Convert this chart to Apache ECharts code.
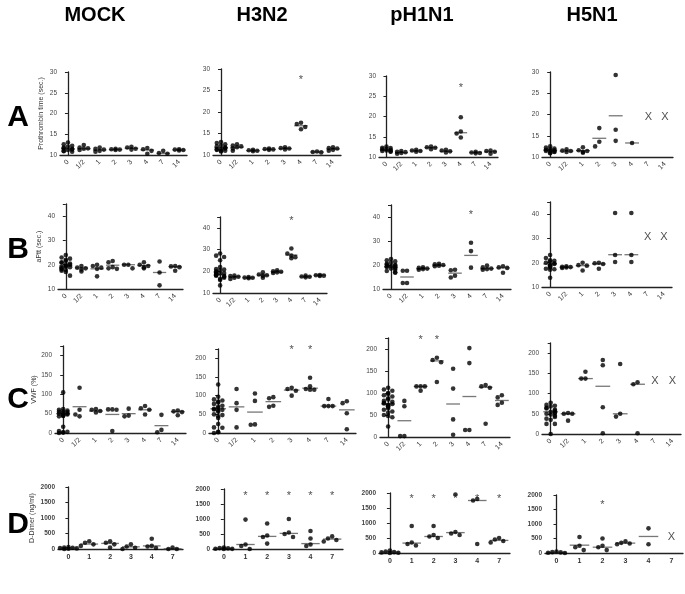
<!DOCTYPE html>
<html><head><meta charset="utf-8">
<script src="https://cdn.jsdelivr.net/npm/echarts@6/dist/echarts.min.js"></script>
<style>html,body{margin:0;padding:0;background:#fff}#c{width:685px;height:594px}</style>
</head><body><div id="c"></div><script>
const daysABC = ['0','1/2','1','2','3','4','7','14'];
const daysD = ['0','1','2','3','4','7'];
const columns = ['MOCK','H3N2','pH1N1','H5N1'];
const rowLetters = ['A','B','C','D'];
const yNames = ['Prothrombin time (sec.)','aPtt (sec.)','VWF (%)','D-Dimer (ng/ml)'];

// ---- Row A: Prothrombin time ----
const A_MOCK = [[12.6,13.0,12.2,11.8,11.5,11.3,11.0,10.8,11.6,12.0,11.2,10.9],[12.4,11.8,11.5,11.2,11.6],[11.8,11.5,11.0,10.8,11.3],[11.5,11.3,11.2,11.4],[12.0,11.8,11.5,11.3],[11.7,11.4,10.3,11.0],[11.0,10.5,10.3],[11.4,11.2,11.1,11.3]];
const A_MOCK_MED = [11.5,11.5,11.2,11.3,11.6,11.2,10.4,11.2];
const A_MOCK_STAR = [];
const A_MOCK_X = [];
const A_H3N2 = [[13.0,12.5,12.0,11.5,11.0,11.2,11.8,12.2,11.4,11.0,10.8,11.6,12.8,11.3],[12.5,12.2,11.8,11.5,11.0,12.0],[11.2,11.0,10.9,11.1],[11.4,11.3,11.2,11.5],[11.8,11.5,11.3,11.6],[17.5,17.2,16.5,16.0],[10.8,10.6,10.7],[11.8,11.5,11.2,11.6,11.0]];
const A_H3N2_MED = [11.7,11.8,11.0,11.3,11.5,16.8,10.7,11.4];
const A_H3N2_STAR = [[5,27.5]];
const A_H3N2_X = [];
const A_PH1N1 = [[12.6,12.3,12.0,11.8,11.5,11.3,11.6,12.2,11.4,11.9],[11.5,11.2,11.0,10.8,11.3],[11.8,11.5,11.3,11.6],[12.6,12.3,11.9,12.4],[11.8,11.4,11.1,11.6],[19.8,16.3,15.8,14.8],[11.3,11.0,10.9,11.1],[11.6,11.3,10.8,11.5]];
const A_PH1N1_MED = [11.7,11.1,11.5,12.3,11.4,16.0,11.1,11.3];
const A_PH1N1_STAR = [[5,27]];
const A_PH1N1_X = [];
const A_H5N1 = [[12.5,12.2,11.8,11.5,11.3,11.0,11.6,12.0,11.2,11.4,11.7,10.9],[11.8,11.5,11.2,11.4],[12.3,11.6,11.2,11.0,11.4],[16.8,13.6,12.5],[29.3,16.4,13.8],[13.3],[],[]];
const A_H5N1_MED = [11.6,11.4,11.5,14.4,19.7,13.3,null,null];
const A_H5N1_STAR = [];
const A_H5N1_X = [[6,19.4],[7,19.4]];

// ---- Row B: aPTT ----
const B_MOCK = [[23,24,22,21.5,21,20.5,20,20,19.5,19,19,18.5,18,17.8,17.5,17,15.5,22.5,20.8,19.3],[19.5,18.8,18.5,17.2,18.0],[19.5,18.8,18.3,15.2,20.0],[21.5,21.0,19.0,18.5,18.3],[20.0,20.0,18.5],[21.0,20.0,19.0,19.5,18.5],[21.3,16.8,11.5],[19.3,19.0,17.5,19.5]];
const B_MOCK_MED = [19.5,18.7,18.3,19.8,20.0,19.7,16.8,19.2];
const B_MOCK_STAR = [];
const B_MOCK_X = [];
const B_H3N2 = [[28.2,27.2,26.6,25.1,22,21,20.5,20,19.5,19,18.8,18.5,18.2,18,17.5,17,16.5,16,13.5,19.2,17.8,20.8],[18.0,17.5,17.0,16.5,17.8],[17.3,17.0,16.8,17.1],[19.5,18.5,18.0,17.0,18.2],[20.5,19.8,19.5,19.2,20.0],[30.5,28.2,27.2,26.5,26.0],[18.0,17.5,17.2,17.6],[18.3,18.0,18.2,17.8]];
const B_H3N2_MED = [18.5,17.5,17.0,18.2,19.6,27.5,17.5,18.2];
const B_H3N2_STAR = [[5,43]];
const B_H3N2_X = [];
const B_PH1N1 = [[22.5,22,21.5,21,20.5,20,19.8,19.5,19.2,19,18.8,18.5,18,17.5,17,16.8,20.2,19.6],[17.6,17.6,12.5,12.5],[19.0,18.8,18.5,18.3,18.0],[20.5,20.0,19.7,19.5,20.3],[18.0,17.8,15.5,14.8],[29.3,25.8,18.9],[19.8,19.0,18.3,18.0,18.5],[19.5,19.0,18.8,16.8]];
const B_PH1N1_MED = [19.2,15.0,18.5,19.8,16.6,24.0,18.5,18.8];
const B_PH1N1_STAR = [[5,40.7]];
const B_PH1N1_X = [];
const B_H5N1 = [[23.2,21.9,21,20.5,20,19.5,19,18.5,18,17.5,17.1,13.8,20.8,19.8,18.8,17.3],[18.5,18.2,18.0,17.8,18.3],[20.0,19.0,18.8,16.8],[20.0,19.8,17.5,19.5],[40.5,23.2,20.3],[40.5,23.2,20.3],[],[]];
const B_H5N1_MED = [19.5,18.1,18.8,19.5,23.3,23.3,null,null];
const B_H5N1_STAR = [];
const B_H5N1_X = [[6,30.5],[7,30.5]];

// ---- Row C: VWF ----
const C_MOCK = [[105,62,60,58,56,55,54,52,50,50,48,47,45,44,43,16,5,3,2,1,0],[117,60,48,43],[62,60,57,53],[61,61,60,5],[63,45,43],[70,64,60,48],[47,8,2],[58,56,46,54]];
const C_MOCK_MED = [50,68,57,48,50,60,19,55];
const C_MOCK_STAR = [];
const C_MOCK_X = [];
const C_H3N2 = [[130,97,90,87,84,82,78,73,70,67,65,63,62,60,57,50,48,45,40,24,15,14,3,2,0],[118,80,62,15],[106,86,23,22],[96,93,73,70],[121,118,113,100],[148,125,118,116,116],[91,72,72,72],[85,80,53,10]];
const C_H3N2_MED = [65,70,56,84,115,120,72,62];
const C_H3N2_STAR = [[4,222],[5,222]];
const C_H3N2_X = [];
const C_PH1N1 = [[112,108,105,100,98,95,92,88,85,82,80,78,76,75,73,72,70,68,65,62,58,55,50,48,45,24],[82,70,2,2],[115,115,115,105],[180,175,170,125],[155,110,40,5],[202,168,16,16],[118,115,112,30],[95,90,78,73]];
const C_PH1N1_MED = [75,37,115,173,75,92,113,83];
const C_PH1N1_STAR = [[2,220],[3,220]];
const C_PH1N1_X = [];
const C_H5N1 = [[77,72,70,68,65,63,60,58,55,53,52,50,48,45,42,38,35,25,25,0],[52,50,50,33],[154,137,137],[183,170,66,2],[173,50,43],[128,123,2],[],[]];
const C_H5N1_MED = [55,50,137,118,50,123,null,null];
const C_H5N1_STAR = [[2,226]];
const C_H5N1_X = [[6,132],[7,132]];

// ---- Row D: D-Dimer ----
const D_MOCK = [[60,50,40,30,20,10,0],[250,200,150,100],[250,200,150,50],[150,80,40,0],[330,100,80,30],[50,0,0]];
const D_MOCK_MED = [30,160,180,70,100,10];
const D_MOCK_STAR = [];
const D_MOCK_X = [];
const D_H3N2 = [[50,30,20,10,5,0],[980,150,100,0],[850,450,400,180],[1000,550,500,400],[600,350,150,100],[420,350,300,250]];
const D_H3N2_MED = [20,150,420,520,180,330];
const D_H3N2_STAR = [[1,1770],[2,1770],[3,1770],[4,1770],[5,1770]];
const D_H3N2_X = [];
const D_PH1N1 = [[80,50,30,20,10,0],[900,350,300,250],[900,600,550,500],[1950,700,650,600],[1800,1750,300],[500,450,400,350]];
const D_PH1N1_MED = [30,330,550,680,1750,420];
const D_PH1N1_STAR = [[1,1800],[2,1800],[3,1800],[4,1800],[5,1800]];
const D_PH1N1_X = [];
const D_H5N1 = [[50,30,20,10,0],[550,250,200,100],[500,250,200,100],[400,350,330,300],[850,300],[]];
const D_H5N1_MED = [20,270,200,340,570,null];
const D_H5N1_STAR = [[2,1650]];
const D_H5N1_X = [[5,550]];

const rowAxes = [
  {min:10,max:30,interval:5,top:30},
  {min:10,max:45,interval:10,top:40},
  {min:0,max:225,interval:50,top:200},
  {min:0,max:2000,interval:500,top:2000}
];

// layout (plot boxes)
const layout = [
  [{l:60,t:72,w:127,h:83},{l:213,t:69,w:128,h:86},{l:379,t:76,w:119,h:81},{l:542,t:72,w:131,h:85}],
  [{l:58,t:204,w:125,h:85},{l:213,t:217,w:114,h:76},{l:383,t:205,w:128,h:84},{l:542,t:202,w:130,h:85}],
  [{l:55,t:346,w:131,h:87},{l:209,t:349,w:147,h:84},{l:380,t:338,w:130,h:99},{l:542,t:343,w:139,h:91}],
  [{l:58,t:487,w:125,h:62},{l:213,t:489,w:130,h:60},{l:379,t:493,w:131,h:60},{l:545,t:495,w:138,h:58}]
];

const panels = [
  [[A_MOCK,A_MOCK_MED,A_MOCK_STAR,A_MOCK_X],[A_H3N2,A_H3N2_MED,A_H3N2_STAR,A_H3N2_X],[A_PH1N1,A_PH1N1_MED,A_PH1N1_STAR,A_PH1N1_X],[A_H5N1,A_H5N1_MED,A_H5N1_STAR,A_H5N1_X]],
  [[B_MOCK,B_MOCK_MED,B_MOCK_STAR,B_MOCK_X],[B_H3N2,B_H3N2_MED,B_H3N2_STAR,B_H3N2_X],[B_PH1N1,B_PH1N1_MED,B_PH1N1_STAR,B_PH1N1_X],[B_H5N1,B_H5N1_MED,B_H5N1_STAR,B_H5N1_X]],
  [[C_MOCK,C_MOCK_MED,C_MOCK_STAR,C_MOCK_X],[C_H3N2,C_H3N2_MED,C_H3N2_STAR,C_H3N2_X],[C_PH1N1,C_PH1N1_MED,C_PH1N1_STAR,C_PH1N1_X],[C_H5N1,C_H5N1_MED,C_H5N1_STAR,C_H5N1_X]],
  [[D_MOCK,D_MOCK_MED,D_MOCK_STAR,D_MOCK_X],[D_H3N2,D_H3N2_MED,D_H3N2_STAR,D_H3N2_X],[D_PH1N1,D_PH1N1_MED,D_PH1N1_STAR,D_PH1N1_X],[D_H5N1,D_H5N1_MED,D_H5N1_STAR,D_H5N1_X]]
];

// beeswarm-style horizontal spread of overlapping dots
function swarm(groups, range, box, nCat) {
  const out = [];
  const thrV = range * 5.2 / box.h;
  const stepX = Math.min(0.28, 4.2 / (box.w / nCat));
  const slots = [0,-1,1,-2,2,-3,3];
  const maxSlot = Math.max(1, Math.floor(0.42 / stepX));
  groups.forEach((vals, gi) => {
    const placed = [];
    const order = vals.map((v,i)=>i).sort((a,b)=>vals[b]-vals[a]);
    order.forEach(i => {
      const v = vals[i];
      const near = placed.filter(p => Math.abs(p.v - v) < thrV);
      let chosen = null;
      for (const s of slots) {
        if (Math.abs(s) > maxSlot) continue;
        if (!near.some(p => p.s === s)) { chosen = s; break; }
      }
      if (chosen === null) chosen = slots[(near.length) % (2*maxSlot+1)];
      placed.push({v, s: chosen});
      out.push([gi + chosen * stepX, v]);
    });
  });
  return out;
}

const grid = [], xAxis = [], yAxis = [], series = [];
const axisColor = '#222';
let k = 0;
for (let r = 0; r < 4; r++) {
  const cats = r === 3 ? daysD : daysABC;
  const n = cats.length;
  for (let c = 0; c < 4; c++) {
    const box = layout[r][c];
    grid.push({left: box.l, top: box.t, width: box.w, height: box.h, containLabel: false});
    xAxis.push({
      type: 'category', gridIndex: k, data: cats, boundaryGap: true,
      axisLine: {lineStyle: {color: axisColor, width: 1.3}},
      axisTick: {alignWithLabel: true, length: 3, lineStyle: {color: axisColor}},
      axisLabel: {
        rotate: r === 3 ? 0 : 45, fontSize: 7, margin: r === 3 ? 5 : 6,
        color: '#333', fontWeight: r === 3 ? 'bold' : 'normal', interval: 0
      },
      splitLine: {show: false}
    });
    xAxis.push({type: 'value', gridIndex: k, min: -0.5, max: n - 0.5, show: false});
    const ya = rowAxes[r];
    yAxis.push({
      type: 'value', gridIndex: k, min: ya.min, max: ya.max, interval: ya.interval,
      name: c === 0 ? yNames[r] : '', nameLocation: 'middle', nameRotate: 90, nameGap: r === 3 ? 22 : 15,
      nameTextStyle: {fontSize: 7, color: '#333'},
      axisLine: {show: true, lineStyle: {color: axisColor, width: 1.3}},
      axisTick: {show: true, length: 3, lineStyle: {color: axisColor}},
      axisLabel: {fontSize: 6.5, color: '#444', margin: 3, fontWeight: r === 3 ? 'bold' : 'normal',
        formatter: v => ((v - ya.min) % ya.interval === 0 && v <= ya.top) ? String(v) : ''},
      splitLine: {show: false}
    });
    const [groups, meds, stars, xs] = panels[r][c];
    const range = ya.max - ya.min;
    const catW = box.w / n;
    series.push({
      type: 'scatter', xAxisIndex: 2*k+1, yAxisIndex: k, silent: true,
      symbol: 'circle', symbolSize: 4.6, itemStyle: {color: '#000'},
      data: swarm(groups, range, box, n), z: 3
    });
    series.push({
      type: 'scatter', xAxisIndex: 2*k+1, yAxisIndex: k, silent: true,
      symbol: 'rect', symbolSize: [catW * 0.85, 1.3], itemStyle: {color: '#555'},
      data: meds.map((m, i) => m === null ? null : [i, m]).filter(d => d), z: 2
    });
    if (stars.length) series.push({
      type: 'scatter', xAxisIndex: 2*k+1, yAxisIndex: k, silent: true,
      symbolSize: 1, itemStyle: {color: 'rgba(0,0,0,0)'},
      label: {show: true, position: 'inside', formatter: '*', fontSize: 11, color: '#222'},
      data: stars, z: 4
    });
    if (xs.length) series.push({
      type: 'scatter', xAxisIndex: 2*k+1, yAxisIndex: k, silent: true,
      symbolSize: 1, itemStyle: {color: 'rgba(0,0,0,0)'},
      label: {show: true, position: 'inside', formatter: 'X', fontSize: 11, color: '#222'},
      data: xs, z: 4
    });
    k++;
  }
}

const colCenters = [95, 262, 422, 592];
const rowCenters = [118, 250, 400, 525];
const graphic = [];
columns.forEach((t, i) => graphic.push({type: 'text', x: colCenters[i], y: 5,
  style: {text: t, font: 'bold 20px "Liberation Sans", Arial, sans-serif', fill: '#000', textAlign: 'center', textVerticalAlign: 'top'}}));
rowLetters.forEach((t, i) => graphic.push({type: 'text', x: 18, y: rowCenters[i],
  style: {text: t, font: 'bold 30px "Liberation Sans", Arial, sans-serif', fill: '#000', textAlign: 'center', textVerticalAlign: 'middle'}}));

const chart = echarts.init(document.getElementById('c'), null, {renderer: 'canvas'});
chart.setOption({
  animation: false,
  backgroundColor: '#fff',
  textStyle: {fontFamily: '"Liberation Sans", Arial, sans-serif'},
  grid, xAxis, yAxis, series, graphic
});
</script></body></html>
